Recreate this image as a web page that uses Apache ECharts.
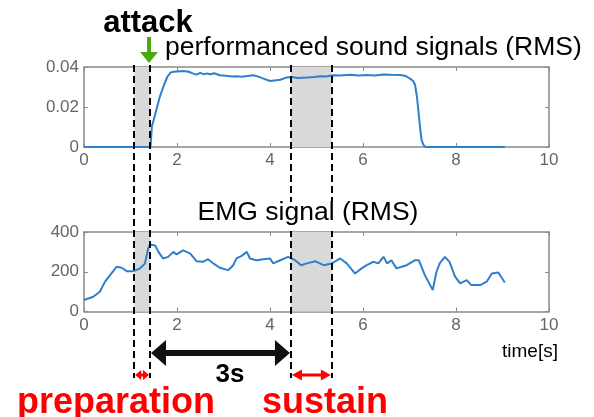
<!DOCTYPE html>
<html>
<head>
<meta charset="utf-8">
<script src="https://cdn.jsdelivr.net/npm/echarts@6/dist/echarts.min.js"></script>
<style>html,body{margin:0;padding:0;background:#fff}#c{width:594px;height:417px}</style>
</head>
<body>
<div id="c"></div>
<script>
// ---- data ----
var xTicks = [0, 2, 4, 6, 8, 10];
var soundTicks = [0, 0.02, 0.04];
var emgTicks = [0, 200, 400];
var soundT = [0,1.43,1.46,1.55,1.63,1.72,1.79,1.86,1.92,2.0,2.14,2.25,2.35,2.42,2.5,2.58,2.64,2.72,2.8,2.92,3.05,3.18,3.28,3.4,3.52,3.64,3.75,3.86,4.0,4.1,4.22,4.35,4.46,4.6,4.79,4.95,5.08,5.2,5.36,5.5,5.72,5.9,6.08,6.25,6.44,6.6,6.8,6.92,7.01,7.08,7.12,7.16,7.19,7.23,7.26,7.3,7.35,9.05];
var soundV = [0,0,0.0102,0.018,0.0251,0.031,0.035,0.0372,0.0376,0.0378,0.038,0.0376,0.0367,0.0362,0.0371,0.0363,0.0368,0.0364,0.0369,0.0359,0.0356,0.0352,0.0354,0.0351,0.0355,0.0359,0.0352,0.0342,0.033,0.0333,0.0336,0.0347,0.035,0.0345,0.0347,0.035,0.0354,0.0352,0.0359,0.0357,0.0361,0.0358,0.036,0.0358,0.0363,0.0361,0.036,0.0355,0.0342,0.033,0.031,0.025,0.0185,0.009,0.0036,0.001,0,0];
var emgT = [0.0,0.2,0.34,0.45,0.56,0.70,0.81,0.92,1.06,1.2,1.31,1.38,1.42,1.53,1.6,1.70,1.81,1.92,1.99,2.13,2.28,2.42,2.56,2.67,2.78,2.92,3.10,3.21,3.28,3.39,3.5,3.57,3.71,3.86,4.0,4.07,4.22,4.39,4.54,4.67,4.79,4.97,5.15,5.33,5.51,5.65,5.83,5.97,6.08,6.22,6.33,6.44,6.52,6.61,6.72,6.94,7.12,7.2,7.33,7.5,7.58,7.65,7.76,7.86,7.98,8.09,8.23,8.33,8.52,8.66,8.77,8.91,9.05];
var emgV = [58,74,99,149,183,225,220,203,203,216,241,317,337,332,300,267,275,300,287,308,292,253,250,263,242,220,208,233,267,280,300,267,258,263,267,242,258,275,258,233,242,253,233,242,267,242,191,217,233,250,242,275,242,258,217,233,258,258,183,108,200,242,275,250,175,141,158,133,133,150,191,196,146];
var prepWindow = [1.08, 1.42];
var sustainWindow = [4.45, 5.33];
var attackTime = 1.42;
var texts = {
  attack: 'attack',
  sound: 'performanced sound signals (RMS)',
  emg: 'EMG signal (RMS)',
  time: 'time[s]',
  gap: '3s',
  prep: 'preparation',
  sustain: 'sustain'
};

function zip(a, b) { return a.map(function (v, i) { return [v, b[i]]; }); }

var FONT = '"Liberation Sans", Arial, Helvetica, sans-serif';
var AX = '#8a8a8a';
var labelStyle = { color: '#666', fontSize: 17, fontFamily: FONT };

function xAx(grid, pos, labels) {
  return {
    type: 'value', gridIndex: grid, position: pos, min: xTicks[0], max: xTicks[xTicks.length - 1],
    interval: xTicks[1] - xTicks[0],
    axisLine: { show: true, onZero: false, lineStyle: { color: AX, width: 1.5 } },
    axisTick: { show: true, inside: true, length: 4, lineStyle: { color: AX, width: 1 } },
    axisLabel: Object.assign({ show: labels, margin: 5 }, labelStyle),
    splitLine: { show: false }
  };
}
function yAx(grid, pos, labels, ticks, fmt) {
  return {
    type: 'value', gridIndex: grid, position: pos, min: ticks[0], max: ticks[ticks.length - 1],
    interval: ticks[1] - ticks[0],
    axisLine: { show: true, onZero: false, lineStyle: { color: AX, width: 1.5 } },
    axisTick: { show: true, inside: true, length: 4, lineStyle: { color: AX, width: 1 } },
    axisLabel: Object.assign({ show: labels, margin: 5, formatter: fmt }, labelStyle),
    splitLine: { show: false }
  };
}
var shade = {
  silent: true,
  itemStyle: { color: '#d9d9d9' },
  data: [[{ xAxis: prepWindow[0] }, { xAxis: prepWindow[1] }], [{ xAxis: sustainWindow[0] }, { xAxis: sustainWindow[1] }]]
};

var chart = echarts.init(document.getElementById('c'), null, { renderer: 'canvas' });
chart.setOption({
  animation: false,
  grid: [
    { left: 84, right: 45, top: 67, height: 80 },
    { left: 84, right: 45, top: 232, height: 79.5 }
  ],
  xAxis: [xAx(0, 'bottom', true), xAx(0, 'top', false), xAx(1, 'bottom', true), xAx(1, 'top', false)],
  yAxis: [
    yAx(0, 'left', true, soundTicks, function (v) { return v === 0 ? '0' : v.toFixed(2); }),
    yAx(0, 'right', false, soundTicks),
    yAx(1, 'left', true, emgTicks, function (v) { return String(v); }),
    yAx(1, 'right', false, emgTicks)
  ],
  series: [
    { type: 'line', xAxisIndex: 0, yAxisIndex: 0, data: zip(soundT, soundV), showSymbol: false,
      lineStyle: { color: '#2f7fcc', width: 2 }, markArea: shade, z: 3 },
    { type: 'line', xAxisIndex: 2, yAxisIndex: 2, data: zip(emgT, emgV), showSymbol: false,
      lineStyle: { color: '#2f7fcc', width: 2 }, markArea: shade, z: 3 }
  ]
});

function px(v) { return chart.convertToPixel({ xAxisIndex: 0 }, v); }

function hArrow(x1, x2, y, color, shaftW, headL, headH) {
  return [
    { type: 'line', shape: { x1: x1 + headL * 0.8, y1: y, x2: x2 - headL * 0.8, y2: y }, style: { stroke: color, lineWidth: shaftW }, z: 20 },
    { type: 'polygon', shape: { points: [[x1, y], [x1 + headL, y - headH / 2], [x1 + headL, y + headH / 2]] }, style: { fill: color }, z: 20 },
    { type: 'polygon', shape: { points: [[x2, y], [x2 - headL, y - headH / 2], [x2 - headL, y + headH / 2]] }, style: { fill: color }, z: 20 }
  ];
}

var g = [];
[prepWindow[0], prepWindow[1], sustainWindow[0], sustainWindow[1]].forEach(function (v) {
  var x = Math.round(px(v));
  g.push({ type: 'line', shape: { x1: x, y1: 65, x2: x, y2: 378 }, style: { stroke: '#000', lineWidth: 2, lineDash: [7, 4] }, z: 15 });
});
var xa = px(attackTime);
g.push({ type: 'line', shape: { x1: xa - 1, y1: 37, x2: xa - 1, y2: 54 }, style: { stroke: '#4ca80f', lineWidth: 4 }, z: 20 });
g.push({ type: 'polygon', shape: { points: [[xa - 10, 52], [xa + 8, 52], [xa - 1, 63]] }, style: { fill: '#4ca80f' }, z: 20 });

g = g.concat(hArrow(px(prepWindow[1]) + 1, px(sustainWindow[0]) - 1, 353, '#111', 6, 15, 26));
g = g.concat(hArrow(px(prepWindow[0]) + 1, px(prepWindow[1]) - 1, 375, '#ff0000', 3, 6, 10));
g = g.concat(hArrow(px(sustainWindow[0]) + 1, px(sustainWindow[1]) - 1, 375, '#ff0000', 3, 10, 11));

// white box behind the EMG title (hides dashed lines there)
g.push({ type: 'rect', shape: { x: 195, y: 202, width: 226, height: 29 }, style: { fill: '#fff' }, z: 22 });

function txt(s, x, y, size, weight, color, align) {
  return { type: 'text', z: 25, style: { text: s, x: x, y: y, fontSize: size, fontWeight: weight, fontFamily: FONT, fill: color, textAlign: align, textVerticalAlign: 'middle' } };
}
g.push(txt(texts.attack, 148, 23, 31, 'bold', '#000', 'center'));
g.push(txt(texts.sound, 165, 48, 26.5, 'normal', '#000', 'left'));
g.push(txt(texts.emg, 308, 213, 26.5, 'normal', '#000', 'center'));
g.push(txt(texts.time, 502, 352, 19, 'normal', '#000', 'left'));
g.push(txt(texts.gap, 230, 375, 26, 'bold', '#000', 'center'));
g.push(txt(texts.prep, 17, 403, 36, 'bold', '#ff0000', 'left'));
g.push(txt(texts.sustain, 262, 403, 36, 'bold', '#ff0000', 'left'));

chart.setOption({ graphic: g });
</script>
</body>
</html>
